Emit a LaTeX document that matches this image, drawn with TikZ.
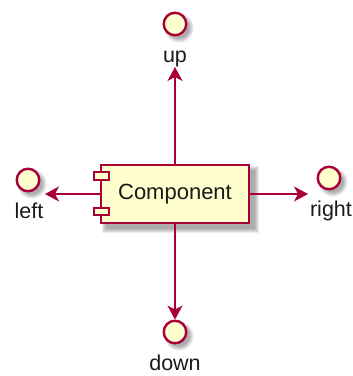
\documentclass[tikz,border=0pt]{standalone}
\usepackage{fontspec}
\setmainfont{Liberation Sans}
\usetikzlibrary{arrows.meta}
\definecolor{umlred}{HTML}{A80036}
\definecolor{umlfill}{HTML}{FEFECE}
\definecolor{txt}{HTML}{1A1A1A}
\begin{document}
\begin{tikzpicture}[x=1pt,y=-1pt,
  iface/.style={circle,draw=umlred,fill=umlfill,line width=2.4pt,minimum size=22.5pt,inner sep=0pt},
  comp/.style={rectangle,draw=umlred,fill=umlfill,line width=2.2pt,minimum width=148pt,minimum height=58pt,inner sep=0pt,font=\fontsize{22}{26}\selectfont,text=txt},
  port/.style={rectangle,draw=umlred,fill=umlfill,line width=2pt,minimum width=15pt,minimum height=7.5pt,inner sep=0pt},
  lbl/.style={font=\fontsize{21.5}{24}\selectfont,anchor=base,inner sep=0pt,text=txt},
  conn/.style={draw=umlred,line width=1.6pt,-{Stealth[length=14pt,width=15pt,inset=4pt]}},
  shad/.style={fill=black,opacity=0.075},
]
\useasboundingbox (0,0) rectangle (353,376);
% shadows
\foreach \d in {0,1,2,3,4}{
  \fill[shad] (106-\d,170-\d) rectangle (255+\d,229+\d);
  \fill[shad] (179,28) circle (10.5+\d);
  \fill[shad] (32,184) circle (10.5+\d);
  \fill[shad] (333,182) circle (10.5+\d);
  \fill[shad] (179,336) circle (10.5+\d);
}
% component
\node[comp] (c) at (175,194) {Component};
\node[port] (p1) at (101,176) {};
\node[port] (p2) at (101,211.5) {};
% interfaces
\node[iface] (up) at (175,24) {};
\node[iface] (left) at (28,180) {};
\node[iface] (right) at (329,178) {};
\node[iface] (down) at (175,332) {};
% labels
\node[lbl] (tup) at (175,62) {up};
\node[lbl] (tleft) at (29,218) {left};
\node[lbl] (tright) at (331,216) {right};
\node[lbl] (tdown) at (175,370) {down};
% arrow ends
\coordinate (aup) at (175,67);
\coordinate (aleft) at (45,194);
\coordinate (aright) at (308,194);
% connectors
\draw[conn] (c.north) -- (aup);
\draw[conn] (c.west) -- (aleft);
\draw[conn] (c.east) -- (aright);
\draw[conn] (c.south) -- (down.north);
\end{tikzpicture}
\end{document}
